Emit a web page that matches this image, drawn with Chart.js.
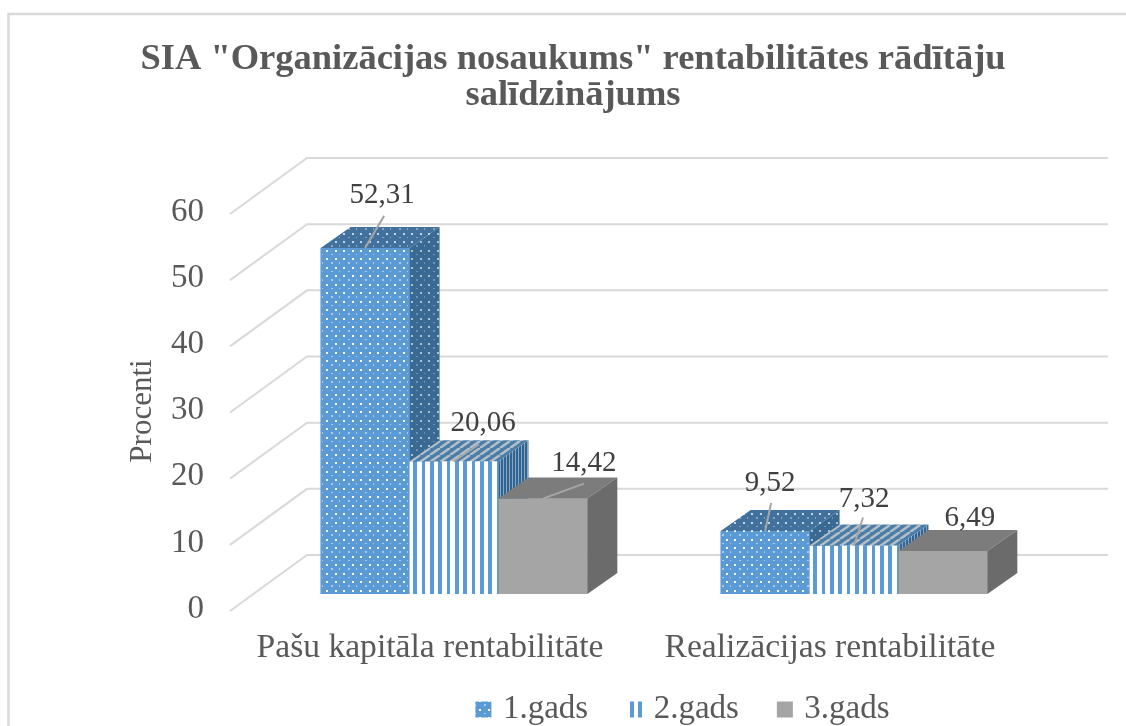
<!DOCTYPE html>
<html lang="en">
<head>
    <meta charset="UTF-8">
    <title>Rentabilitāte</title>
    <script src="https://cdn.jsdelivr.net/npm/chart.js"></script>
    <style>
        * {
            padding: 0;
            margin: 0;
        }
        body {
            background-color: #ffffff;
            width: 1126px;
            height: 726px;
            overflow: hidden;
        }
        canvas {
            display: block;
        }
    </style>
</head>
<body>
    <canvas id="myChart" width="1126" height="726"></canvas>
    <script>
        const categories = ['Pašu kapitāla rentabilitāte', 'Realizācijas rentabilitāte'];
        const seriesNames = ['1.gads', '2.gads', '3.gads'];
        const year1 = [52.31, 9.52];
        const year2 = [20.06, 7.32];
        const year3 = [14.42, 6.49];
        const yAxisTitle = 'Procenti';

        // 3D look: how far the wall and bar depth are pushed
        const wallDx = 77, wallDy = -39, floorDy = 17;
        const barDx = 30, barDy = -21;
        // label position from the bar's top centre, per series then category
        const labelShift = [
            [[17, -52], [5, -48]],
            [[29, -38], [10, -46]],
            [[41, -35], [27, -33]]
        ];
        const leaderEnd = [
            [[19, -32], [6, -28]],
            [[25, -17], [9, -28]],
            [[41, -15], null]
        ];

        function dotPattern(bg, fg, faint) {
            const c = document.createElement('canvas');
            c.width = 17; c.height = 17;
            const g = c.getContext('2d');
            g.fillStyle = bg;
            g.fillRect(0, 0, 17, 17);
            g.fillStyle = fg;
            [[3, 3], [12, 3], [3, 12], [12, 12]].forEach(p => g.fillRect(p[0], p[1], 2, 2));
            g.fillStyle = faint;
            [[8, 7], [16, 7], [8, 16], [16, 16]].forEach(p => g.fillRect(p[0], p[1], 2, 2));
            return g.createPattern(c, 'repeat');
        }

        function stripePattern(bg, fg, cols, width, stripe) {
            const c = document.createElement('canvas');
            c.width = width; c.height = 4;
            const g = c.getContext('2d');
            g.fillStyle = fg;
            g.fillRect(0, 0, width, 4);
            g.fillStyle = bg;
            cols.forEach(x => g.fillRect(x, 0, stripe, 4));
            return g.createPattern(c, 'repeat');
        }

        function slantPattern(bg, fg) {
            const c = document.createElement('canvas');
            c.width = 10; c.height = 7;
            const g = c.getContext('2d');
            g.fillStyle = bg;
            g.fillRect(0, 0, 10, 7);
            g.strokeStyle = fg;
            g.lineWidth = 2.5;
            for (let i = -10; i <= 10; i += 10) {
                g.beginPath();
                g.moveTo(i, 7);
                g.lineTo(i + 10, 0);
                g.stroke();
            }
            return g.createPattern(c, 'repeat');
        }

        const faces = [
            {
                front: dotPattern('#5b9bd5', '#ffffff', '#a9cbea'),
                top: dotPattern('#41719c', '#c5d6e6', '#86a5c2'),
                side: dotPattern('#3a6a94', '#a9c0d6', '#6f93b5')
            },
            {
                front: stripePattern('#5b9bd5', '#ffffff', [5, 13, 22], 25, 4),
                top: slantPattern('#4a7ea8', '#b5bfc8'),
                side: stripePattern('#2f6496', '#8fa5ba', [0], 3, 2)
            },
            { front: '#a5a5a5', top: '#7c7c7c', side: '#6b6b6b' }
        ];

        function poly(ctx, pts, fill) {
            ctx.beginPath();
            pts.forEach((p, i) => i ? ctx.lineTo(p[0], p[1]) : ctx.moveTo(p[0], p[1]));
            ctx.closePath();
            ctx.fillStyle = fill;
            ctx.fill();
        }

        const serif = '"Liberation Serif", serif';

        const depthPlugin = {
            id: 'depth',
            afterLayout(chart) {
                // legend sits right of the chart's centre
                chart.legend.left += 112;
                chart.legend.right += 112;
                chart.legend.top -= 24;
                chart.legend.bottom -= 24;
            },
            beforeDatasetsDraw(chart) {
                const ctx = chart.ctx, y = chart.scales.y;
                const left = 230, right = 1108;
                ctx.save();
                ctx.strokeStyle = '#d9d9d9';
                ctx.lineWidth = 2;
                y.ticks.forEach(t => {
                    const py = y.getPixelForValue(t.value);
                    ctx.beginPath();
                    ctx.moveTo(left, py + floorDy);
                    ctx.lineTo(left + wallDx, py + wallDy);
                    ctx.lineTo(right, py + wallDy);
                    ctx.stroke();
                });
                ctx.restore();
            },
            afterDatasetsDraw(chart) {
                const ctx = chart.ctx;
                // repaint left to right so each bar covers its neighbour's side
                chart.data.datasets.forEach((ds, i) => {
                    const f = faces[i];
                    chart.getDatasetMeta(i).data.forEach(bar => {
                        const l = bar.x - bar.width / 2, r = bar.x + bar.width / 2;
                        const t = bar.y, b = bar.base;
                        bar.draw(ctx);
                        poly(ctx, [[l, t], [r, t], [r + barDx, t + barDy], [l + barDx, t + barDy]], f.top);
                        poly(ctx, [[r, t], [r + barDx, t + barDy], [r + barDx, b + barDy], [r, b]], f.side);
                    });
                });
            },
            afterDraw(chart) {
                const ctx = chart.ctx;
                ctx.save();
                // outer frame
                ctx.strokeStyle = '#d9d9d9';
                ctx.lineWidth = 2.5;
                ctx.beginPath();
                ctx.moveTo(8.5, 726);
                ctx.lineTo(8.5, 14);
                ctx.lineTo(1126, 14);
                ctx.stroke();
                // value labels with leader lines
                ctx.font = '29px ' + serif;
                ctx.textAlign = 'center';
                ctx.textBaseline = 'middle';
                chart.data.datasets.forEach((ds, i) => {
                    chart.getDatasetMeta(i).data.forEach((bar, j) => {
                        const end = leaderEnd[i][j];
                        if (end) {
                            ctx.strokeStyle = '#a6a6a6';
                            ctx.lineWidth = 2;
                            ctx.beginPath();
                            ctx.moveTo(bar.x, bar.y);
                            ctx.lineTo(bar.x + end[0], bar.y + end[1]);
                            ctx.stroke();
                        }
                        ctx.fillStyle = '#404040';
                        ctx.fillText(ds.data[j].toFixed(2).replace('.', ','), bar.x + labelShift[i][j][0], bar.y + labelShift[i][j][1]);
                    });
                });
                // axis title sits below the axis centre, so it is placed by hand
                ctx.translate(143, 411);
                ctx.rotate(-Math.PI / 2);
                ctx.font = '31px ' + serif;
                ctx.fillStyle = '#595959';
                ctx.fillText(yAxisTitle, 0, 0);
                ctx.restore();
            }
        };

        const seriesValues = [year1, year2, year3];

        new Chart(document.getElementById('myChart'), {
            type: 'bar',
            data: {
                labels: categories,
                datasets: seriesNames.map((name, i) => ({
                    label: name,
                    data: seriesValues[i],
                    backgroundColor: faces[i].front,
                    borderWidth: 0
                }))
            },
            options: {
                responsive: false,
                animation: false,
                categoryPercentage: 2 / 3,
                barPercentage: 1,
                layout: { padding: { left: 92, right: 72, top: 20, bottom: -34 } },
                plugins: {
                    title: {
                        display: true,
                        text: ['SIA "Organizācijas nosaukums" rentabilitātes rādītāju', 'salīdzinājums'],
                        color: '#595959',
                        font: { family: serif, size: 36.5, weight: 'bold', lineHeight: 1 },
                        padding: { top: 21, bottom: 83 }
                    },
                    legend: {
                        position: 'bottom',
                        labels: {
                            color: '#595959',
                            font: { family: serif, size: 33 },
                            usePointStyle: true,
                            pointStyle: 'rect',
                            boxWidth: 6,
                            boxHeight: 16,
                            padding: 43
                        }
                    },
                    tooltip: { enabled: false }
                },
                scales: {
                    x: {
                        afterFit(scale) { scale.height = 80; },
                        grid: { display: false },
                        border: { display: false },
                        ticks: { color: '#595959', font: { family: serif, size: 33.6 }, padding: 26, labelOffset: -24, maxRotation: 0 }
                    },
                    y: {
                        min: 0,
                        max: 60,
                        afterFit(scale) { scale.width = 162; },
                        grid: { display: false, drawTicks: false },
                        border: { display: false },
                        ticks: {
                            stepSize: 10,
                            color: '#595959',
                            font: { family: serif, size: 33 },
                            labelOffset: 15,
                            padding: 50
                        }
                    }
                }
            },
            plugins: [depthPlugin]
        });
    </script>
</body>
</html>
